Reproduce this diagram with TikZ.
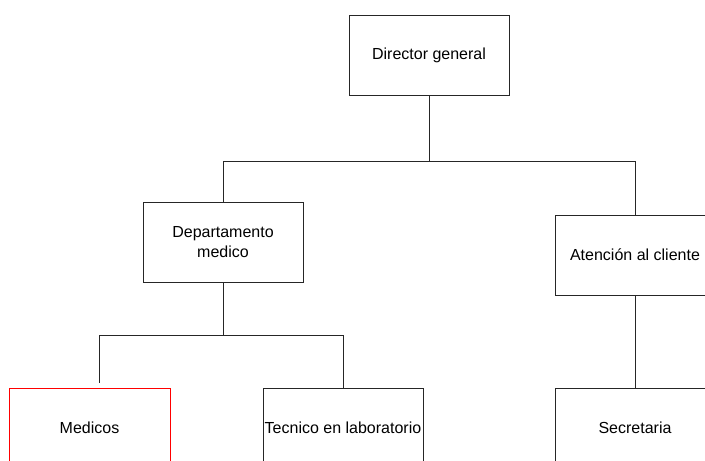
\documentclass[tikz,border=0pt]{standalone}
\usepackage{fontspec}
\setmainfont{Liberation Sans}
\begin{document}
\begin{tikzpicture}[x=1pt,y=-1pt,
  box/.style={draw=black!85, line width=1pt, fill=white, rectangle, minimum width=160pt, minimum height=80pt, inner sep=0pt, align=center, font=\fontsize{16}{19.5}\selectfont},
  conn/.style={draw=black!85, line width=1pt}]
\useasboundingbox (0,0) rectangle (705,461);
\clip (0,0) rectangle (705,461);
\node[box] (dir) at (429,55) {Director general};
\node[box] (dept) at (223,242) {Departamento\\medico};
\node[box] (aten) at (635,255) {Atención al cliente};
\node[box, draw=red, minimum width=161pt] (med) at (89.5,428) {Medicos};
\node[box] (tec) at (343,428) {Tecnico en laboratorio};
\node[box] (sec) at (635,428) {Secretaria};
\coordinate (j1) at (429,161);
\coordinate (j2) at (223,335);
\coordinate (mtop) at (99,383);
\draw[conn] (dir.south) -- (j1) -| (dept.north);
\draw[conn] (j1) -| (aten.north);
\draw[conn] (dept.south) -- (j2) -| (mtop);
\draw[conn] (j2) -| (tec.north);
\draw[conn] (aten.south) -- (sec.north);
\end{tikzpicture}
\end{document}
